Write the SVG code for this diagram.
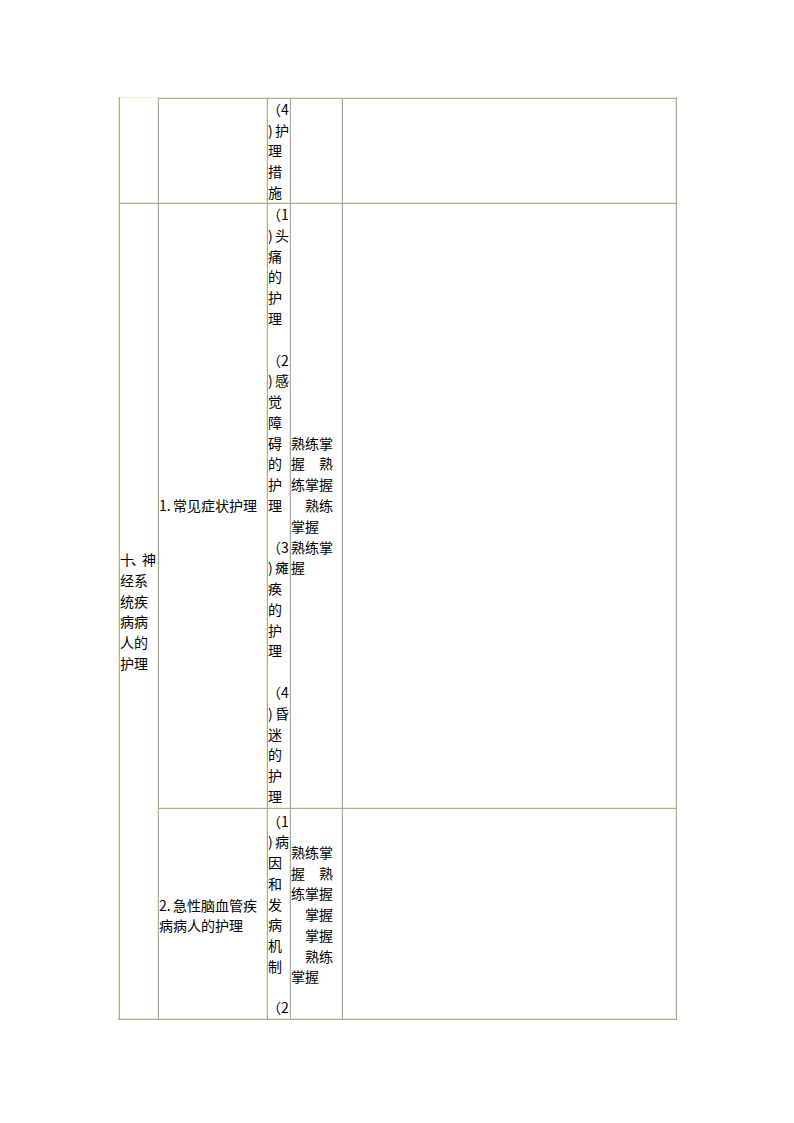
<svg xmlns="http://www.w3.org/2000/svg" width="794" height="1123" viewBox="0 0 794 1123">
<style>
.t{font-family:"Noto Sans CJK SC","Noto Sans",sans-serif;font-size:14px;fill:#000}
.d{stroke:#aca899;stroke-width:1;fill:none}
.l{stroke:#f3f0d2;stroke-width:1;fill:none}
</style>
<rect x="0" y="0" width="794" height="1123" fill="#fff"/>
<g id="grid">
<path class="l" d="M118 97.5H677M118.5 97V1020M119 202.5H676M158 807.5H676M119 1018.5H676M157.5 98V1019M266.5 98V1019M289.5 98V1019M341.5 98V1019M675.5 98V1019"/>
<path class="d" d="M158 98.5H676M119 203.5H676M158 808.5H676M119.5 97V1019M158.5 98V1019M267.5 98V1019M290.5 98V1019M342.5 98V1019M676.5 97V1020M118 1019.5H677"/>
</g>
<g id="r1c3" class="t">
<text x="267" y="115">（4</text>
<text x="268" y="135.7">)<tspan x="275">护</tspan></text>
<text x="268" y="156.3">理</text>
<text x="268" y="177">措</text>
<text x="268" y="197.7">施</text>
</g>
<g id="r2c1" class="t">
<text x="120" y="565" textLength="36" lengthAdjust="spacing">十、神</text>
<text x="120" y="585.8">经系</text>
<text x="120" y="606.6">统疾</text>
<text x="120" y="627.4">病病</text>
<text x="120" y="648.2">人的</text>
<text x="120" y="669">护理</text>
</g>
<g id="r2c2" class="t">
<text x="159" y="511">1.<tspan x="173">常见症状护理</tspan></text>
</g>
<g id="r2c3" class="t">
<text x="267" y="220">（1</text>
<text x="268" y="240.8">)<tspan x="275">头</tspan></text>
<text x="268" y="261.6">痛</text>
<text x="268" y="282.3">的</text>
<text x="268" y="303.1">护</text>
<text x="268" y="323.9">理</text>
<text x="267" y="365.5">（2</text>
<text x="268" y="386.2">)<tspan x="275">感</tspan></text>
<text x="268" y="407">觉</text>
<text x="268" y="427.8">障</text>
<text x="268" y="448.6">碍</text>
<text x="268" y="469.4">的</text>
<text x="268" y="490.1">护</text>
<text x="268" y="510.9">理</text>
<text x="267" y="552.5">（3</text>
<text x="268" y="573.3">)<tspan x="275">瘫</tspan></text>
<text x="268" y="594">痪</text>
<text x="268" y="614.8">的</text>
<text x="268" y="635.6">护</text>
<text x="268" y="656.4">理</text>
<text x="267" y="698">（4</text>
<text x="268" y="718.7">)<tspan x="275">昏</tspan></text>
<text x="268" y="739.5">迷</text>
<text x="268" y="760.3">的</text>
<text x="268" y="781.1">护</text>
<text x="268" y="801.8">理</text>
</g>
<g id="r2c4" class="t">
<text x="291" y="448.6">熟练掌</text>
<text x="291" y="469.4">握<tspan x="319">熟</tspan></text>
<text x="291" y="490.1">练掌握</text>
<text x="305" y="510.9">熟练</text>
<text x="291" y="531.7">掌握</text>
<text x="291" y="552.5">熟练掌</text>
<text x="291" y="573.3">握</text>
</g>
<g id="r3c2" class="t">
<text x="159" y="911">2.<tspan x="173">急性脑血管疾</tspan></text>
<text x="159" y="931">病病人的护理</text>
</g>
<g id="r3c3" class="t">
<text x="267" y="826.7">（1</text>
<text x="268" y="847.4">)<tspan x="275">病</tspan></text>
<text x="268" y="868.1">因</text>
<text x="268" y="888.8">和</text>
<text x="268" y="909.5">发</text>
<text x="268" y="930.2">病</text>
<text x="268" y="950.9">机</text>
<text x="268" y="971.6">制</text>
<text x="267" y="1013">（2</text>
</g>
<g id="r3c4" class="t">
<text x="291" y="858">熟练掌</text>
<text x="291" y="878.7">握<tspan x="319">熟</tspan></text>
<text x="291" y="899.4">练掌握</text>
<text x="305" y="920.1">掌握</text>
<text x="305" y="940.8">掌握</text>
<text x="305" y="961.5">熟练</text>
<text x="291" y="982.2">掌握</text>
</g>
</svg>
